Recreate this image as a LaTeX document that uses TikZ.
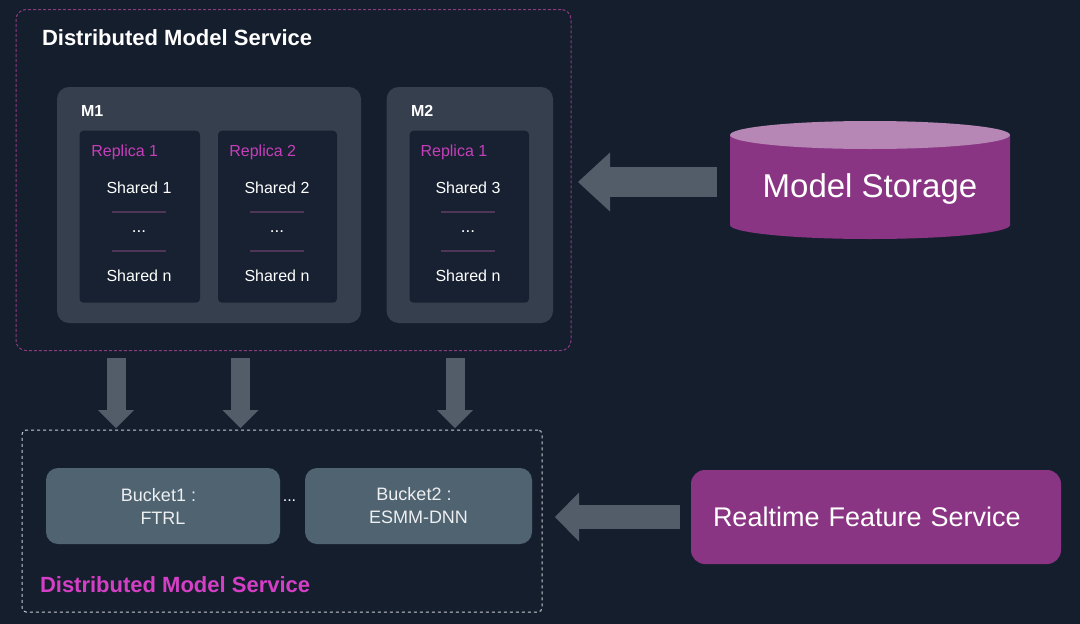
\documentclass[tikz,border=0pt]{standalone}
\usepackage{fontspec}
\setmainfont{Liberation Sans}
\usetikzlibrary{arrows.meta}
\definecolor{bgc}{HTML}{151E2D}
\definecolor{mbox}{HTML}{363F4D}
\definecolor{rbox}{HTML}{182131}
\definecolor{arrowc}{HTML}{525D69}
\definecolor{bucketc}{HTML}{4F6371}
\definecolor{purp}{HTML}{8A3584}
\definecolor{purptop}{HTML}{B686B5}
\definecolor{pinktxt}{HTML}{D43FC5}
\definecolor{reptxt}{HTML}{C63EBA}
\definecolor{dashpink}{HTML}{8A3C82}
\definecolor{sepc}{HTML}{4E3659}
\definecolor{dashwhite}{HTML}{C8CDD3}
\begin{document}
\begin{tikzpicture}[x=1pt,y=-1pt,
  every node/.style={inner sep=0pt,outer sep=0pt,text=white},
  outerbox/.style={draw=dashpink,line width=1pt,dash pattern=on 3pt off 2pt,rounded corners=10pt},
  lowerbox/.style={draw=dashwhite,line width=1pt,dash pattern=on 3pt off 3pt,rounded corners=4pt},
  mboxs/.style={fill=mbox,rounded corners=12pt},
  rboxs/.style={fill=rbox,rounded corners=4pt,minimum width=120pt,minimum height=172pt},
  mlabel/.style={anchor=west,font=\fontsize{16}{19}\selectfont\bfseries},
  replabel/.style={anchor=west,text=reptxt,font=\fontsize{16}{19}\selectfont},
  shtxt/.style={font=\fontsize{16}{19}\selectfont},
  dotstxt/.style={font=\fontsize{17}{19}\selectfont},
  sepline/.style={draw=sepc,line width=2pt},
  bucket/.style={fill=bucketc,rounded corners=12pt,minimum height=76pt,align=center,
     text=white!90!bucketc,font=\fontsize{18}{23}\selectfont},
  bigarrow/.style={draw=arrowc,line width=30pt,-{Triangle[length=32pt,width=59pt,line width=0pt]}},
  downarrow/.style={draw=arrowc,line width=19pt,-{Triangle[length=18pt,width=36pt,line width=0pt]}},
  midarrow/.style={draw=arrowc,line width=24pt,-{Triangle[length=24pt,width=49pt,line width=0pt]}}
]
\fill[bgc] (0,0) rectangle (1080,624);
\useasboundingbox (0,0) rectangle (1080,624);

% upper service box
\node[outerbox,minimum width=555pt,minimum height=341pt] (dms) at (293.5,180) {};
\node[anchor=west,font=\fontsize{22}{26}\selectfont\bfseries] (title1) at (42,38) {Distributed Model Service};

% M1
\node[mboxs,minimum width=304pt,minimum height=236pt] (m1) at (209,205) {};
\node[mlabel] (m1l) at (81,111) {M1};
\node[rboxs,minimum width=120.5pt] (r11) at (139.75,216.7) {};
\node[rboxs,minimum width=119pt] (r12) at (277.5,216.7) {};
% M2
\node[mboxs,minimum width=166.4pt,minimum height=236pt] (m2) at (469.8,205) {};
\node[mlabel] (m2l) at (411,111) {M2};
\node[rboxs,minimum width=119.5pt] (r21) at (469.25,216.7) {};

% replica contents
\foreach \n/\lx/\cx/\r/\s in {a/91.4/139/1/Shared 1, b/229.4/277/2/Shared 2, c/420.6/468/1/Shared 3}{
  \node[replabel] (rep\n) at (\lx,152.2) {Replica \r};
  \node[shtxt] (sh\n) at (\cx,187.5) {\s};
  \coordinate (la\n) at (\cx-27,212);
  \coordinate (ra\n) at (\cx+27,212);
  \draw[sepline] (la\n) -- (ra\n);
  \node[dotstxt] (dots\n) at (\cx,231.5) {...};
  \coordinate (lb\n) at (\cx-27,251);
  \coordinate (rb\n) at (\cx+27,251);
  \draw[sepline] (lb\n) -- (rb\n);
  \node[shtxt] (shn\n) at (\cx,275.8) {Shared n};
}

% Model storage cylinder
\fill[purp] (730,135) -- (730,225) arc[start angle=180,end angle=360,x radius=140pt,y radius=14pt] -- (1010,135) -- cycle;
\fill[purptop] (870,135) ellipse[x radius=140pt,y radius=14pt];
\node[minimum width=280pt,minimum height=118pt] (storage) at (870,182) {};
\node[anchor=base,font=\fontsize{33}{38}\selectfont] (storagetxt) at (870,197.7) {Model Storage};

% lower service box
\node[lowerbox,minimum width=520pt,minimum height=182pt] (lb) at (282,521) {};
\node[bucket,minimum width=234pt] (b1) at (163,506) {Bucket1 :\kern9pt\\FTRL};
\node[bucket,minimum width=227pt] (b2) at (418.5,506) {Bucket2 :\kern9pt\\ESMM-DNN};
\node[font=\fontsize{16}{19}\selectfont] (bdots) at (289.5,501) {...};
\node[anchor=west,text=pinktxt,font=\fontsize{22}{26}\selectfont\bfseries] (title2) at (40,585) {Distributed Model Service};

% realtime feature service
\node[fill=purp,rounded corners=14pt,minimum width=370pt,minimum height=94pt,
      text width=326pt,inner xsep=22pt,align=left,font=\fontsize{27}{32}\selectfont] (rfs) at (876,517) {Realtime Feature Service};

% arrows
\draw[bigarrow,shorten <=13pt,shorten >=7pt] (storage.west) -- (storage.west -| dms.east);
\coordinate (t1) at (116,430);
\coordinate (t2) at (240.5,430);
\coordinate (t3) at (455,430);
\foreach \t in {t1,t2,t3}{
  \draw[downarrow,shorten <=7.5pt,shorten >=2pt] (\t |- dms.south) -- (\t);
}
\draw[midarrow,shorten <=11pt,shorten >=13pt] (rfs.west) -- (rfs.west -| lb.east);
\end{tikzpicture}
\end{document}
